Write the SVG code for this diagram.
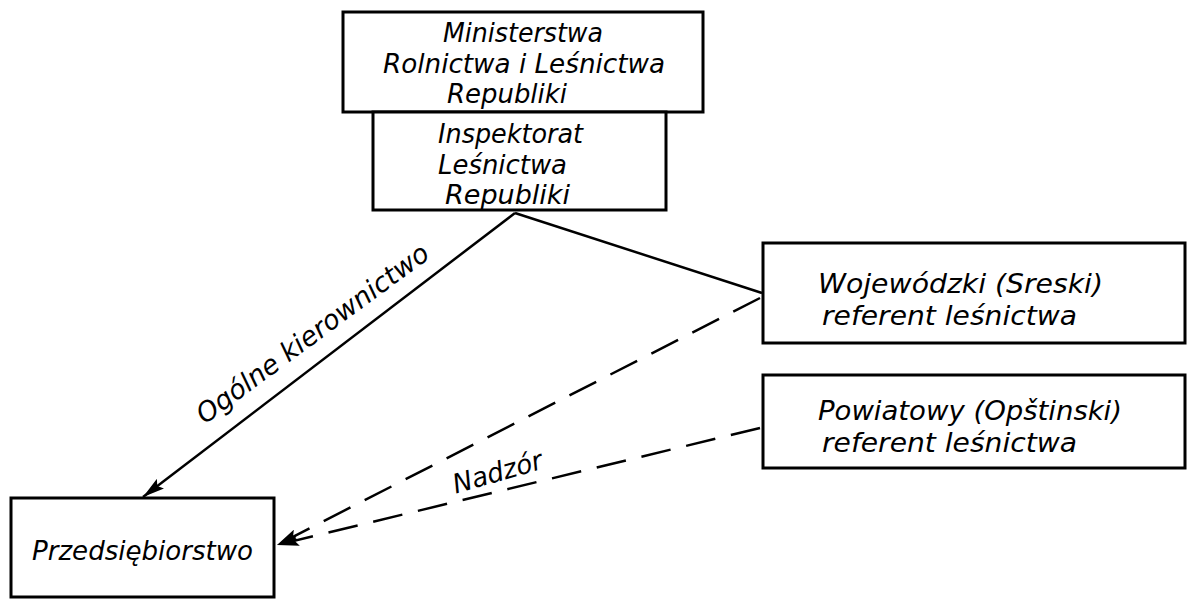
<svg xmlns="http://www.w3.org/2000/svg" width="1188" height="600" viewBox="0 0 1188 600">
<defs>
<style>
.box{fill:#fff;stroke:#000;stroke-width:3}
.t{font-family:"DejaVu Sans","Liberation Sans",sans-serif;font-style:italic;font-stretch:condensed;font-size:27px;fill:#000}
.s{font-size:26px}
.ln{fill:none;stroke:#000;stroke-width:2.5}
.dash{stroke-dasharray:30 16}
</style>
<marker id="ah" viewBox="0 0 22 12" refX="22" refY="6" markerWidth="22" markerHeight="12" markerUnits="userSpaceOnUse" orient="auto">
<path d="M0,0 L22,6 L0,12 L4,6 Z" fill="#000"/>
</marker>
</defs>
<rect width="1188" height="600" fill="#fff"/>
<g id="connectors">
<line class="ln" x1="515" y1="213" x2="143" y2="497" marker-end="url(#ah)"/>
<line class="ln" x1="515" y1="213" x2="762" y2="293"/>
<line class="ln dash" x1="760" y1="298" x2="277" y2="545" marker-end="url(#ah)"/>
<line class="ln dash" x1="760" y1="428" x2="277" y2="545" marker-end="url(#ah)"/>
<text class="t" transform="translate(318,341) rotate(-36.5)" text-anchor="middle" textLength="282" lengthAdjust="spacingAndGlyphs">Ogólne kierownictwo</text>
<text class="t" transform="translate(500,481) rotate(-16)" text-anchor="middle" textLength="92" lengthAdjust="spacingAndGlyphs">Nadzór</text>
</g>
<g id="ministerstwo">
<rect class="box" x="343" y="12" width="360" height="100"/>
<text class="t s" x="443" y="42" textLength="160" lengthAdjust="spacingAndGlyphs">Ministerstwa</text>
<text class="t s" x="383" y="72.5" textLength="282" lengthAdjust="spacingAndGlyphs">Rolnictwa i Leśnictwa</text>
<text class="t s" x="447" y="103" textLength="120" lengthAdjust="spacingAndGlyphs">Republiki</text>
</g>
<g id="inspektorat">
<rect class="box" x="373" y="112" width="293" height="98"/>
<text class="t s" x="438" y="143" textLength="145" lengthAdjust="spacingAndGlyphs">Inspektorat</text>
<text class="t s" x="438" y="173.5" textLength="129" lengthAdjust="spacingAndGlyphs">Leśnictwa</text>
<text class="t s" x="445" y="204" textLength="125" lengthAdjust="spacingAndGlyphs">Republiki</text>
</g>
<g id="wojewodzki">
<rect class="box" x="763" y="243" width="422" height="100"/>
<text class="t" x="818" y="293" textLength="285" lengthAdjust="spacingAndGlyphs">Wojewódzki (Sreski)</text>
<text class="t" x="822" y="325" textLength="255" lengthAdjust="spacingAndGlyphs">referent leśnictwa</text>
</g>
<g id="powiatowy">
<rect class="box" x="763" y="375" width="422" height="93"/>
<text class="t" x="818" y="420" textLength="304" lengthAdjust="spacingAndGlyphs">Powiatowy (Opštinski)</text>
<text class="t" x="822" y="452" textLength="255" lengthAdjust="spacingAndGlyphs">referent leśnictwa</text>
</g>
<g id="przedsiebiorstwo">
<rect class="box" x="11" y="498" width="263" height="99"/>
<text class="t" x="32" y="560" textLength="221" lengthAdjust="spacingAndGlyphs">Przedsiębiorstwo</text>
</g>
</svg>
